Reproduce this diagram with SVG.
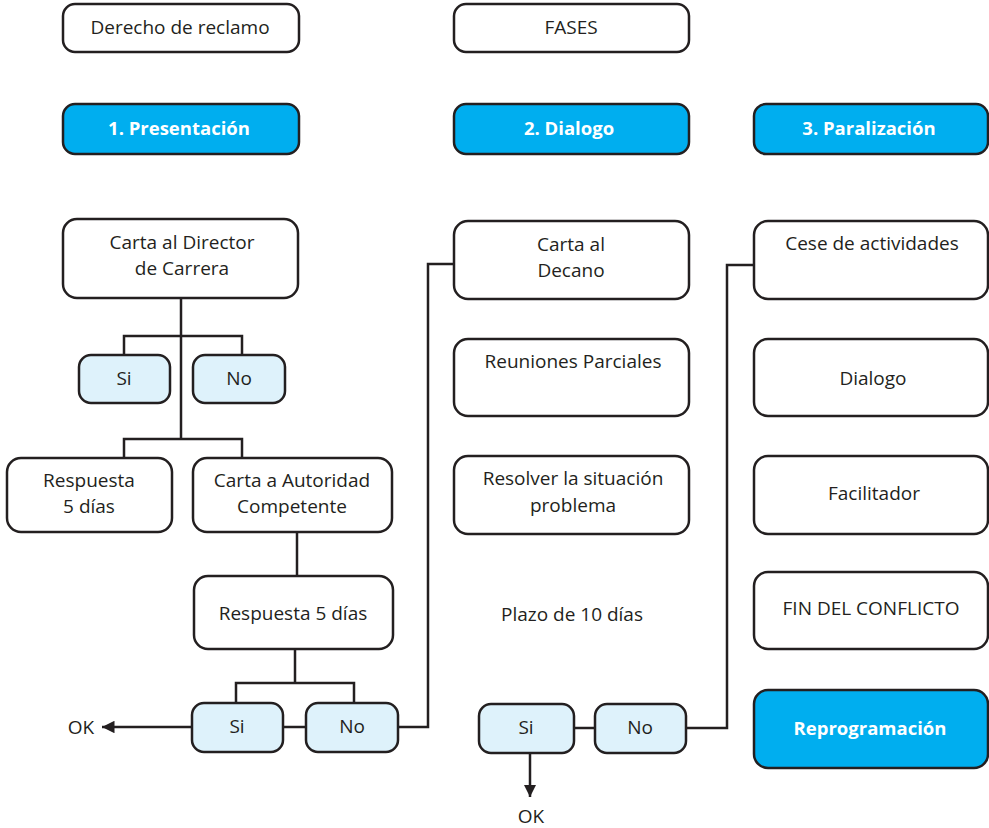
<svg xmlns="http://www.w3.org/2000/svg" width="989" height="828" viewBox="0 0 989 828">
<defs>
<style>
.b{fill:#fff;stroke:#231f20;stroke-width:2.5}
.h{fill:#00aeef;stroke:#231f20;stroke-width:2.5}
.l{fill:#def2fb;stroke:#231f20;stroke-width:2.5}
.t{font-family:"Open Sans","Noto Sans",sans-serif;font-size:19px;fill:#231f20;text-anchor:middle}
.w{font-family:"Open Sans","Noto Sans",sans-serif;font-size:18.5px;font-weight:bold;fill:#fff;text-anchor:middle}
.c{fill:none;stroke:#231f20;stroke-width:2.5}
</style>
<marker id="ar" viewBox="0 0 10 10" refX="10" refY="5" markerWidth="5" markerHeight="5" orient="auto" markerUnits="strokeWidth">
<path d="M0,0L10,5L0,10z" fill="#231f20"/>
</marker>
</defs>
<g id="connectors">
<path class="c" d="M181,298V439"/>
<path class="c" d="M124,355V336H242V355"/>
<path class="c" d="M124,458V439H242V458"/>
<path class="c" d="M297,532V576"/>
<path class="c" d="M295,649V683"/>
<path class="c" d="M236,703V683H354V703"/>
<path class="c" d="M283,727H306"/>
<path class="c" d="M398,727H428V264H454"/>
<path class="c" d="M192,727H102" marker-end="url(#ar)"/>
<path class="c" d="M574,728H595"/>
<path class="c" d="M686,728H727V265H754"/>
<path class="c" d="M530,753V797" marker-end="url(#ar)"/>
</g>
<g id="derecho"><rect class="b" x="63" y="4" width="236" height="48" rx="12"/><text class="t" x="180" y="34">Derecho de reclamo</text></g>
<g id="fases"><rect class="b" x="454" y="4" width="235" height="48" rx="12"/><text class="t" x="571" y="34">FASES</text></g>
<g id="presentacion"><rect class="h" x="63" y="104" width="236" height="50" rx="12"/><text class="w" x="179" y="135">1. Presentación</text></g>
<g id="dialogo-fase"><rect class="h" x="454" y="104" width="235" height="50" rx="12"/><text class="w" x="569" y="135">2. Dialogo</text></g>
<g id="paralizacion"><rect class="h" x="754" y="104" width="234" height="50" rx="12"/><text class="w" x="869" y="135">3. Paralización</text></g>
<g id="carta-director"><rect class="b" x="63" y="219" width="235" height="79" rx="14"/><text class="t" x="182" y="249">Carta al Director</text><text class="t" x="182" y="275">de Carrera</text></g>
<g id="si1"><rect class="l" x="79" y="355" width="91" height="48" rx="12"/><text class="t" x="124" y="385">Si</text></g>
<g id="no1"><rect class="l" x="193" y="355" width="92" height="48" rx="12"/><text class="t" x="239" y="385">No</text></g>
<g id="respuesta1"><rect class="b" x="7" y="458" width="165" height="74" rx="14"/><text class="t" x="89" y="487">Respuesta</text><text class="t" x="89" y="513">5 días</text></g>
<g id="carta-autoridad"><rect class="b" x="193" y="458" width="199" height="74" rx="14"/><text class="t" x="292" y="487">Carta a Autoridad</text><text class="t" x="292" y="513">Competente</text></g>
<g id="respuesta2"><rect class="b" x="194" y="576" width="199" height="73" rx="14"/><text class="t" x="293" y="620">Respuesta 5 días</text></g>
<g id="si2"><rect class="l" x="192" y="703" width="91" height="49" rx="12"/><text class="t" x="237" y="733">Si</text></g>
<g id="no2"><rect class="l" x="306" y="703" width="92" height="49" rx="12"/><text class="t" x="352" y="733">No</text></g>
<text class="t" x="81" y="734">OK</text>
<g id="carta-decano"><rect class="b" x="454" y="221" width="235" height="78" rx="14"/><text class="t" x="571" y="251">Carta al</text><text class="t" x="571" y="277">Decano</text></g>
<g id="reuniones"><rect class="b" x="454" y="339" width="235" height="77" rx="14"/><text class="t" x="573" y="368">Reuniones Parciales</text></g>
<g id="resolver"><rect class="b" x="454" y="456" width="235" height="78" rx="14"/><text class="t" x="573" y="485">Resolver la situación</text><text class="t" x="573" y="512">problema</text></g>
<text class="t" x="572" y="621">Plazo de 10 días</text>
<g id="si3"><rect class="l" x="479" y="704" width="95" height="49" rx="12"/><text class="t" x="526" y="734">Si</text></g>
<g id="no3"><rect class="l" x="595" y="704" width="91" height="49" rx="12"/><text class="t" x="640" y="734">No</text></g>
<text class="t" x="531" y="823">OK</text>
<g id="cese"><rect class="b" x="754" y="221" width="234" height="78" rx="14"/><text class="t" x="872" y="250">Cese de actividades</text></g>
<g id="dialogo"><rect class="b" x="754" y="339" width="234" height="77" rx="14"/><text class="t" x="873" y="385">Dialogo</text></g>
<g id="facilitador"><rect class="b" x="754" y="456" width="234" height="78" rx="14"/><text class="t" x="874" y="500">Facilitador</text></g>
<g id="fin"><rect class="b" x="754" y="572" width="234" height="77" rx="14"/><text class="t" x="871" y="615">FIN DEL CONFLICTO</text></g>
<g id="reprogramacion"><rect class="h" x="754" y="690" width="234" height="78" rx="14"/><text class="w" x="870" y="735">Reprogramación</text></g>
</svg>
